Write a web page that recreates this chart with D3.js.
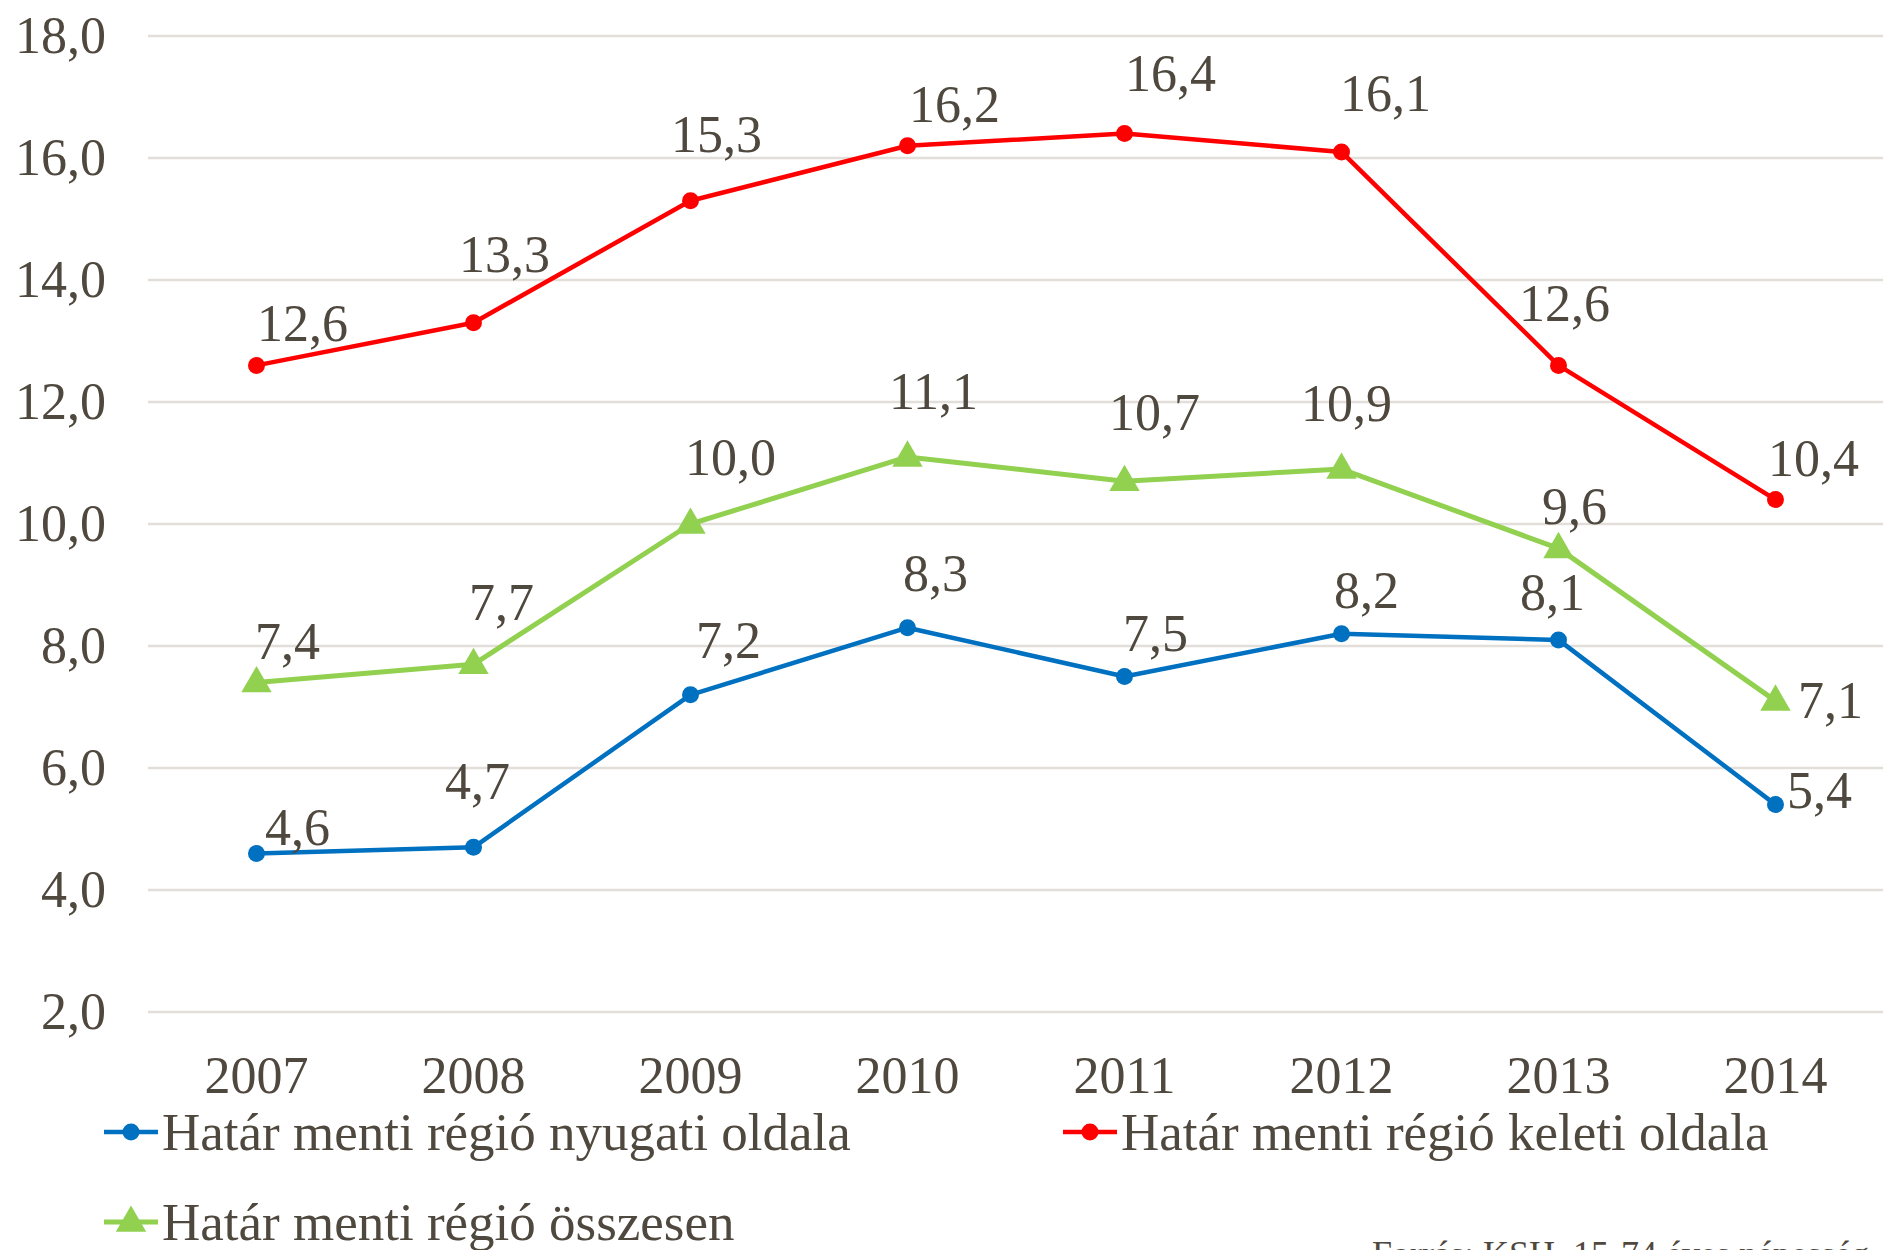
<!DOCTYPE html>
<html>
<head>
<meta charset="utf-8">
<script src="https://cdn.jsdelivr.net/npm/d3@7"></script>
<style>
  body { margin: 0; background: #fff; }
  text { font-family: "Liberation Serif", "Times New Roman", serif; fill: #4f483e; }
</style>
</head>
<body>
<div id="chart"></div>
<script>
// years on the x axis
var years = ["2007", "2008", "2009", "2010", "2011", "2012", "2013", "2014"];
// y ticks
var yTicks = [2, 4, 6, 8, 10, 12, 14, 16, 18];

// series values
var westValues = [4.6, 4.7, 7.2, 8.3, 7.5, 8.2, 8.1, 5.4];
var eastValues = [12.6, 13.3, 15.3, 16.2, 16.4, 16.1, 12.6, 10.4];
var totalValues = [7.4, 7.7, 10.0, 11.1, 10.7, 10.9, 9.6, 7.1];

var seriesNames = [
  "Határ menti régió nyugati oldala",
  "Határ menti régió keleti oldala",
  "Határ menti régió összesen"
];
var sourceText = "Forrás: KSH, 15-74 éves népesség";

// label nudges (px) relative to each point, as placed in the original
var westNudge = [[41,-26],[4,-65],[38,-54],[28,-54],[31,-43],[25,-43],[-6,-47],[44,-14]];
var eastNudge = [[46,-42],[31,-68],[26,-66],[47,-41],[46,-60],[44,-58],[6,-62],[38,-41]];
var totalNudge = [[31,-41],[28,-61],[40,-66],[26,-65],[30,-68],[5,-65],[16,-42],[55,0]];

//Width and height
var w = 1883;
var h = 1250;

var svg = d3.select("#chart")
  .append("svg")
  .attr("width", w)
  .attr("height", h);

var x = d3.scaleBand()
  .domain(years)
  .range([148, 1884]);

var y = d3.scaleLinear()
  .domain([2, 18])
  .range([1012, 36]);

// gridlines
svg.append("g")
  .selectAll("line")
  .data(yTicks)
  .enter()
  .append("line")
  .attr("x1", 148)
  .attr("x2", w)
  .attr("y1", function(d) { return y(d); })
  .attr("y2", function(d) { return y(d); })
  .style("stroke", "#e2dfdb")
  .style("stroke-width", 2.5);

// y axis labels
var fmt = function(d) { return d3.format(".1f")(d).replace(".", ","); };

svg.append("g")
  .selectAll("text")
  .data(yTicks)
  .enter()
  .append("text")
  .attr("x", 106)
  .attr("y", function(d) { return y(d); })
  .attr("dy", "0.33em")
  .attr("text-anchor", "end")
  .style("font-size", "52px")
  .text(fmt);

// x axis labels
svg.append("g")
  .selectAll("text")
  .data(years)
  .enter()
  .append("text")
  .attr("x", function(d) { return x(d) + x.bandwidth() / 2; })
  .attr("y", 1093)
  .attr("text-anchor", "middle")
  .style("font-size", "52px")
  .text(function(d) { return d; });

var series = [
  { name: seriesNames[0], values: westValues, nudge: westNudge, color: "#0070c0", width: 4.5, marker: "circle" },
  { name: seriesNames[1], values: eastValues, nudge: eastNudge, color: "#ff0000", width: 4.5, marker: "circle" },
  { name: seriesNames[2], values: totalValues, nudge: totalNudge, color: "#92d050", width: 5, marker: "triangle" }
];

var line = d3.line()
  .x(function(d, i) { return x(years[i]) + x.bandwidth() / 2; })
  .y(function(d) { return y(d); });

var tri = d3.symbol().type(d3.symbolTriangle).size(400);

function drawMarker(g, s, cx, cy) {
  if (s.marker == "circle") {
    g.append("circle")
      .attr("cx", cx)
      .attr("cy", cy)
      .attr("r", 8.5)
      .style("fill", s.color);
  } else {
    g.append("path")
      .attr("d", tri)
      .attr("transform", "translate(" + cx + "," + (cy + 1) + ")")
      .style("fill", s.color);
  }
}

series.forEach(function(s) {
  var g = svg.append("g");
  g.append("path")
    .attr("d", line(s.values))
    .style("fill", "none")
    .style("stroke", s.color)
    .style("stroke-width", s.width)
    .style("stroke-linejoin", "round");

  s.values.forEach(function(v, i) {
    var cx = x(years[i]) + x.bandwidth() / 2;
    drawMarker(g, s, cx, y(v));
  });

  // data labels
  g.selectAll("text")
    .data(s.values)
    .enter()
    .append("text")
    .attr("x", function(d, i) { return x(years[i]) + x.bandwidth() / 2 + s.nudge[i][0]; })
    .attr("y", function(d, i) { return y(d) + s.nudge[i][1]; })
    .attr("dy", "0.33em")
    .attr("text-anchor", "middle")
    .style("font-size", "52px")
    .text(fmt);
});

// legend
var legendPos = [[104, 1132], [1063, 1132], [104, 1222]];
series.forEach(function(s, i) {
  var lg = svg.append("g")
    .attr("transform", "translate(" + legendPos[i][0] + "," + legendPos[i][1] + ")");
  lg.append("line")
    .attr("x1", 0)
    .attr("x2", 54)
    .attr("y1", 0)
    .attr("y2", 0)
    .style("stroke", s.color)
    .style("stroke-width", s.width);
  drawMarker(lg, s, 27, 0);
  lg.append("text")
    .attr("x", 58)
    .attr("y", 0)
    .attr("dy", "0.33em")
    .style("font-size", "53px")
    .text(s.name);
});

// source note (cut off at bottom in the original)
svg.append("text")
  .attr("x", 1372)
  .attr("y", 1266)
  .style("font-size", "36px")
  .text(sourceText);
</script>
</body>
</html>
